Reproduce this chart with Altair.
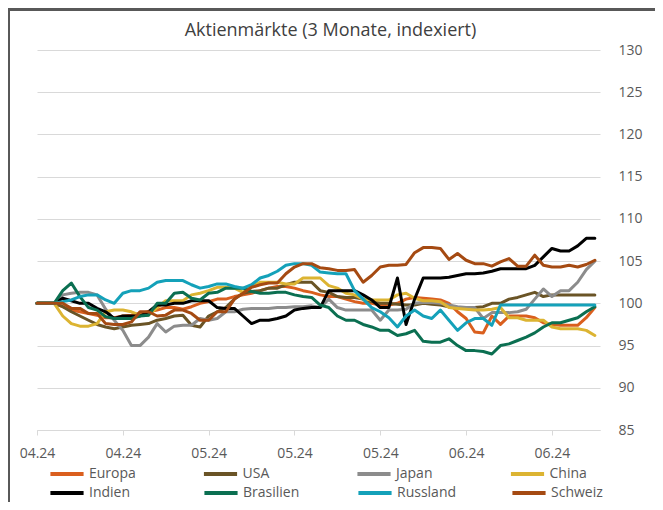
import json
import altair as alt
import pandas as pd

series_names = ["Europa", "USA", "Japan", "China", "Indien", "Brasilien", "Russland", "Schweiz"]
series_colors = ["#DA5F1E", "#6A5426", "#8C8C8C", "#DCB432", "#000000", "#0B6F51", "#14A1B9", "#A54A12"]
tick_labels = ["04.24", "04.24", "05.24", "05.24", "05.24", "06.24", "06.24"]
y_ticks = [85, 90, 95, 100, 105, 110, 115, 120, 125, 130]

europa = [100, 100, 100, 99.6, 99.2, 99, 98.8, 98.6, 98.3, 98.3,
          98.5, 98.6, 98.8, 99, 99.2, 99.5, 99.5, 99.3, 99.6, 100,
          100.2, 100.5, 100.5, 100.8, 101, 101.2, 101.5, 101.8, 102, 102,
          101.8, 101.5, 101.3, 101, 100.8, 100.8, 100.5, 100.2, 100,
          100, 99.8, 99.8, 100, 100.5, 100.7, 100.6, 100.5, 100.4, 100,
          99, 98.2, 96.6, 96.5, 98.5, 97.5, 98.5, 98.5, 98.5, 98.3,
          97.7, 97.5, 97.4, 97.4, 97.4, 98.3, 99.5]
usa = [100, 100, 100, 99.6, 99, 98.5, 98, 97.5, 97.2, 97,
       97.2, 97.4, 97.5, 97.6, 98, 98.2, 98.5, 98.6, 97.4, 97.2,
       98.5, 99, 99.5, 100.5, 101.2, 101.4, 101.5, 101.8, 101.8, 102.2,
       102.5, 102.5, 102.5, 101.5, 101.3, 100.8, 100.7, 100.7, 100.5,
       100.2, 100, 100, 99.9, 99.8, 99.8, 100, 99.9, 99.8, 99.6,
       99.5, 99.5, 99.5, 99.6, 100, 100, 100.5, 100.7, 101, 101.3,
       100.8, 101, 101, 101, 101, 101, 101]
japan = [100, 100, 100, 101, 101.2, 101.3, 101.3, 101, 99.3, 98,
         96.8, 95, 95, 96, 97.6, 96.6, 97.3, 97.4, 97.4, 98.2,
         98, 98.2, 99, 99, 99.3, 99.4, 99.4, 99.4, 99.5, 99.5,
         99.6, 99.6, 99.7, 99.5, 100.5, 99.5, 99.2, 99.2, 99.2,
         99.2, 98, 99.2, 99.2, 99.3, 100, 100.1, 100.1, 100, 99.8,
         99.6, 99.5, 99.5, 98.2, 98.9, 98.9, 98.9, 99, 99.3, 100.5,
         101.7, 100.8, 101.5, 101.5, 102.5, 104, 105]
china = [100, 100, 100, 98.5, 97.6, 97.3, 97.3, 97.6, 99, 99.2,
         99.2, 99, 98.6, 98.6, 99.5, 100.3, 100.3, 100.3, 101, 101.2,
         101.5, 101.9, 101.9, 101.8, 101.3, 102, 102.5, 102.5, 102.5, 102.3,
         102.3, 103, 103, 103, 102.1, 101.8, 101.2, 101, 100.5,
         100.4, 100.4, 100.4, 101, 101.2, 100.6, 100.3, 100.3, 100.2, 99.5,
         99.4, 99.3, 99.2, 99.2, 99.3, 99.5, 98.3, 98.3, 98, 98,
         98, 97.2, 97, 97, 97, 96.8, 96.2]
indien = [100, 100, 100, 100.6, 100.3, 100, 100, 99.4, 99, 98.2,
          98.5, 98.5, 98.5, 99, 99.8, 99.8, 100, 100, 100.3, 100.3,
          100.3, 99.5, 99.4, 99.4, 98.5, 97.6, 98, 98, 98.2, 98.5,
          99.2, 99.4, 99.5, 99.5, 101.5, 101.5, 101.5, 101.5, 101,
          100.4, 99.5, 99.5, 103, 97.5, 100.5, 103, 103, 103, 103.1,
          103.3, 103.5, 103.5, 103.6, 103.8, 104.1, 104.1, 104.1, 104.1, 104.5,
          105.5, 106.5, 106.2, 106.2, 106.8, 107.7, 107.7]
brasilien = [100, 100, 100, 101.5, 102.4, 100.8, 99.5, 99.2, 98.4, 98.2,
             98.2, 98.2, 98.5, 98.6, 100, 100, 101.2, 101.3, 100.6, 100.4,
             101.2, 101.3, 101.8, 101.8, 101.8, 101.4, 101.2, 101.2, 101.3, 101.3,
             101, 100.8, 100.7, 99.8, 99.5, 98.5, 98, 98, 97.5,
             97.2, 96.8, 96.8, 96.2, 96.4, 96.8, 95.5, 95.4, 95.4, 95.8,
             95, 94.4, 94.4, 94.3, 94, 95, 95.2, 95.6, 96, 96.5,
             97.2, 97.7, 97.7, 98, 98.3, 99, 99.6]
russland = [100, 100, 100, 100.2, 100.4, 100.8, 101, 101, 100.4, 100,
            101.2, 101.5, 101.5, 101.8, 102.5, 102.7, 102.7, 102.7, 102.2, 101.8,
            102, 102.3, 102.3, 102, 101.8, 102.2, 103, 103.3, 103.8, 104.5,
            104.7, 104.7, 104.5, 103.7, 103.6, 103.5, 103.5, 101.5, 100.5,
            99.5, 99, 98.3, 97.2, 98.5, 99.2, 98.5, 98.2, 99.2, 98,
            96.8, 97.7, 98.2, 98.2, 97.4, 99.8, 99.8, 99.8, 99.8, 99.8,
            99.8, 99.8, 99.8, 99.8, 99.8, 99.8, 99.8]
schweiz = [100, 100, 100, 100, 99.4, 99.4, 98.8, 98.8, 97.6, 97.5,
           97.5, 97.8, 99, 99, 98.5, 98.6, 99.2, 99.2, 98.8, 98,
           98, 99, 99, 100.5, 101.2, 101.9, 102.2, 102.4, 102.4, 103.5,
           104.3, 104.7, 104.7, 104.2, 104.1, 103.9, 103.9, 104, 102.5,
           103.3, 104.3, 104.5, 104.5, 104.6, 106, 106.6, 106.6, 106.5, 105.2,
           105.9, 105.1, 104.7, 104.7, 104.4, 104.9, 105.3, 104.4, 104.4, 105.7,
           104.5, 104.3, 104.3, 104.5, 104.3, 104.6, 105.1]

all_values = [europa, usa, japan, china, indien, brasilien, russland, schweiz]

rows = []
for name, vals in zip(series_names, all_values):
    for i, v in enumerate(vals):
        rows.append({"idx": i, "value": v, "series": name})
df = pd.DataFrame(rows)

FONT = "Open Sans"
GRID = "#D9D9D9"
TXT = "#595959"

label_expr = "%s[round(datum.value / 10)]" % json.dumps(tick_labels)


def legend(y, col_pad):
    return alt.Legend(
        title=None, orient="none", legendX=11, legendY=y,
        direction="horizontal", columns=4, gridAlign="all",
        columnPadding=col_pad, padding=0,
        symbolType="stroke", symbolSize=1100, symbolStrokeWidth=4,
        labelOffset=3, labelFontSize=14, labelFont=FONT, labelColor=TXT,
        labelLimit=200,
    )


# first legend row (Europa ... China) on the color channel,
# second row (Indien ... Schweiz) on the stroke channel
color_row1 = alt.Color(
    "series:N",
    scale=alt.Scale(domain=series_names[:4], range=series_colors[:4]),
    legend=legend(405, 59.5),
)
stroke_row2 = alt.Stroke(
    "series:N",
    scale=alt.Scale(domain=series_names[4:], range=series_colors[4:]),
    legend=legend(424, 47),
)

x = alt.X(
    "idx:Q",
    scale=alt.Scale(domain=[0, 65.6], nice=False, zero=False),
    axis=alt.Axis(
        values=[0, 10, 20, 30, 40, 50, 60], labelExpr=label_expr, title=None,
        grid=False, domainColor=GRID, tickColor=GRID, tickSize=5,
        labelFlush=False, labelFontSize=14, labelFont=FONT, labelColor=TXT,
        labelPadding=11,
    ),
)
y = alt.Y(
    "value:Q",
    scale=alt.Scale(domain=[85, 130], nice=False, zero=False),
    axis=alt.Axis(
        orient="right", values=y_ticks, title=None, grid=True, gridColor=GRID,
        domain=False, ticks=False, labelFontSize=14, labelFont=FONT,
        labelColor=TXT, labelPadding=18,
    ),
)

layers = []
for k, name in enumerate(series_names):
    base = (
        alt.Chart(df)
        .transform_filter(alt.datum.series == name)
        .mark_line(strokeWidth=3, strokeJoin="round", strokeCap="round")
    )
    if k < 4:
        layers.append(base.encode(x=x, y=y, color=color_row1))
    else:
        layers.append(base.encode(x=x, y=y, stroke=stroke_row2))

border_left = alt.Chart(df).mark_rule(color="#595959", strokeWidth=1.5).encode(
    x=alt.value(-28.5), y=alt.value(-40.5), y2=alt.value(460)
)
border_top = alt.Chart(df).mark_rule(color="#595959", strokeWidth=1.5).encode(
    x=alt.value(-28.5), x2=alt.value(640), y=alt.value(-40.5)
)

chart = (
    alt.layer(*layers, border_left, border_top)
    .properties(
        width=563, height=380,
        padding={"left": 29, "top": 42, "right": 55, "bottom": 72},
        autosize=alt.AutoSizeParams(type="none"),
        title=alt.TitleParams(
            "Aktienmärkte (3 Monate, indexiert)", fontSize=18, font=FONT,
            color="#404040", fontWeight="normal", anchor="middle", frame="group",
            dx=12, dy=49, baseline="bottom", offset=0,
        ),
    )
    .configure_view(stroke=None)
)

chart.save("out.html", embed_options={"renderer": "svg", "actions": False})
